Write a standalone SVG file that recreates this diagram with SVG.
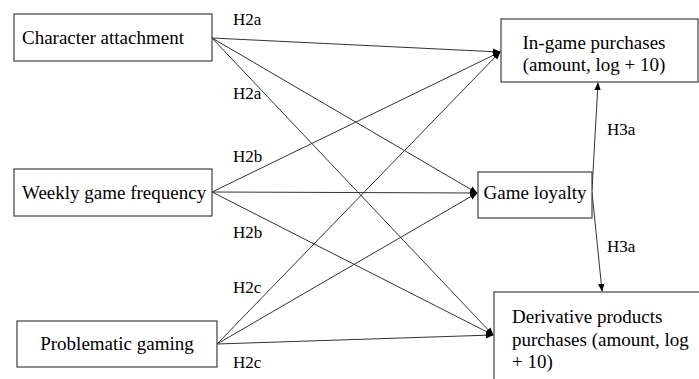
<svg xmlns="http://www.w3.org/2000/svg" width="699" height="379" viewBox="0 0 699 379">
<style>
.box{fill:#fff;stroke:#404040;stroke-width:1.2}
.t{font-family:"Liberation Serif","Times New Roman",serif;font-size:19px;fill:#000}
.l{font-family:"Liberation Serif","Times New Roman",serif;font-size:17px;fill:#000}
.c{stroke:#333;stroke-width:1;fill:none;marker-end:url(#ah)}
</style>
<defs>
<marker id="ah" viewBox="0 0 10 10" refX="9" refY="5" markerWidth="8" markerHeight="8" markerUnits="userSpaceOnUse" orient="auto">
<path d="M0,1 L10,5 L0,9 Z" fill="#000"/>
</marker>
</defs>
<rect width="699" height="379" fill="#fff"/>
<g id="connectors">
<line class="c" x1="212" y1="38" x2="500" y2="52"/>
<line class="c" x1="212" y1="38" x2="477" y2="193"/>
<line class="c" x1="212" y1="38" x2="493" y2="335"/>
<line class="c" x1="212" y1="192" x2="500" y2="52"/>
<line class="c" x1="212" y1="192" x2="477" y2="193"/>
<line class="c" x1="212" y1="192" x2="493" y2="335"/>
<line class="c" x1="217" y1="344" x2="500" y2="52"/>
<line class="c" x1="217" y1="344" x2="477" y2="193"/>
<line class="c" x1="217" y1="344" x2="493" y2="335"/>
<line class="c" x1="592" y1="190" x2="598" y2="83"/>
<line class="c" x1="592" y1="192" x2="602" y2="291"/>
<text class="l" x="233" y="25">H2a</text>
<text class="l" x="233" y="99">H2a</text>
<text class="l" x="233" y="162">H2b</text>
<text class="l" x="233" y="238">H2b</text>
<text class="l" x="233" y="293">H2c</text>
<text class="l" x="233" y="368">H2c</text>
<text class="l" x="607" y="135">H3a</text>
<text class="l" x="607" y="252">H3a</text>
</g>
<g id="character">
<rect class="box" x="14" y="14" width="198" height="47"/>
<text class="t" x="22" y="44">Character attachment</text>
</g>
<g id="weekly">
<rect class="box" x="14" y="169" width="198" height="47"/>
<text class="t" x="22" y="199">Weekly game frequency</text>
</g>
<g id="problematic">
<rect class="box" x="17" y="321" width="200" height="46"/>
<text class="t" x="117" y="350" text-anchor="middle">Problematic gaming</text>
</g>
<g id="ingame">
<rect class="box" x="501" y="19" width="197" height="63"/>
<text class="t" x="594" y="49" text-anchor="middle">In-game purchases</text>
<text class="t" x="594" y="71" text-anchor="middle">(amount, log + 10)</text>
</g>
<g id="loyalty">
<rect class="box" x="478" y="172" width="114" height="46"/>
<text class="t" x="535" y="199" text-anchor="middle">Game loyalty</text>
</g>
<g id="derivative">
<rect class="box" x="494" y="292" width="210" height="100"/>
<text class="t" x="512" y="323">Derivative products</text>
<text class="t" x="512" y="346">purchases (amount, log</text>
<text class="t" x="512" y="368">+ 10)</text>
</g>
</svg>
